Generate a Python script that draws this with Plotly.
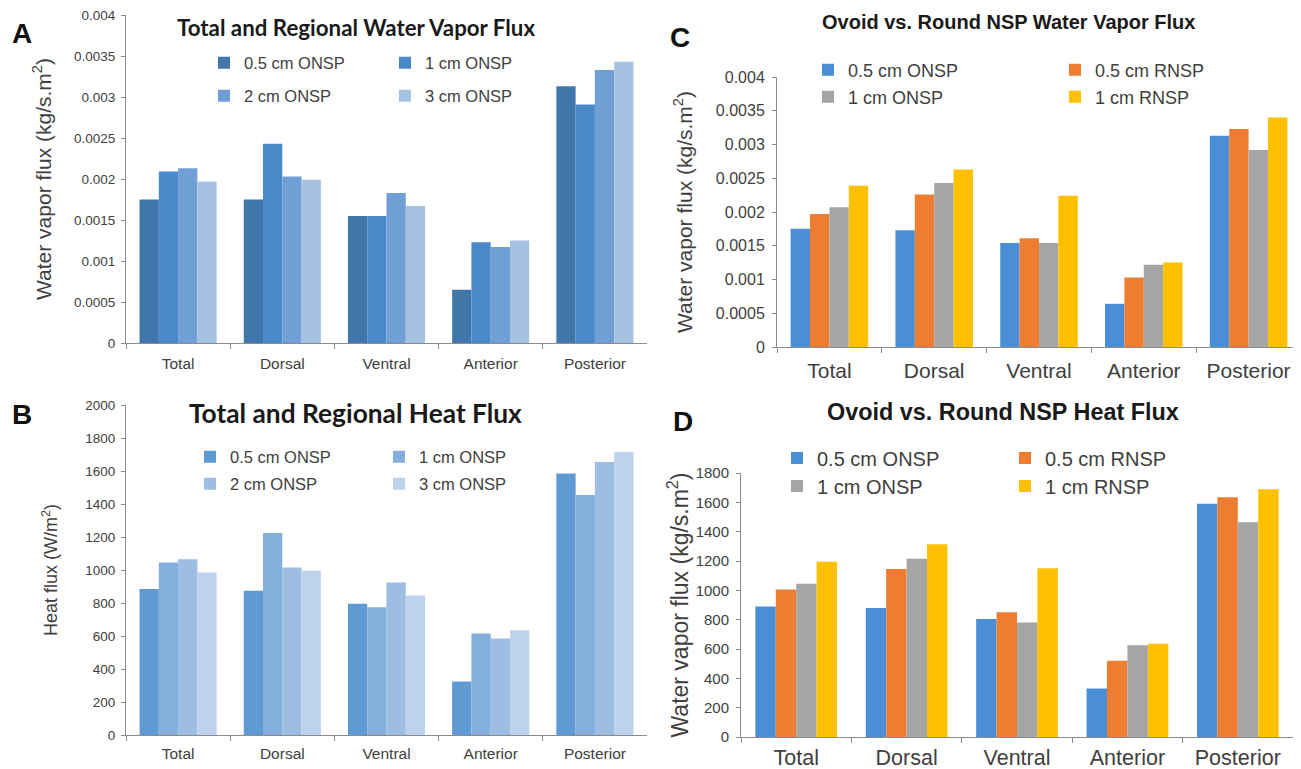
import plotly.graph_objects as go

categories = ["Total", "Dorsal", "Ventral", "Anterior", "Posterior"]

# Panel A: water vapor flux, ovoid NSP sizes
a_names = ["0.5 cm ONSP", "1 cm ONSP", "2 cm ONSP", "3 cm ONSP"]
a_05 = [0.00175, 0.00175, 0.00155, 0.00065, 0.00313]
a_1 = [0.00209, 0.00243, 0.00155, 0.00123, 0.00291]
a_2 = [0.00213, 0.00203, 0.00183, 0.00117, 0.00333]
a_3 = [0.00197, 0.00199, 0.00167, 0.00125, 0.00343]

# Panel B: heat flux, ovoid NSP sizes
b_names = ["0.5 cm ONSP", "1 cm ONSP", "2 cm ONSP", "3 cm ONSP"]
b_05 = [885, 875, 795, 325, 1585]
b_1 = [1045, 1225, 775, 615, 1455]
b_2 = [1065, 1015, 925, 585, 1655]
b_3 = [985, 995, 845, 635, 1715]

# Panel C: ovoid vs round water vapor flux
c_names = ["0.5 cm ONSP", "0.5 cm RNSP", "1 cm ONSP", "1 cm RNSP"]
c_05o = [0.00175, 0.00173, 0.00154, 0.00064, 0.00313]
c_05r = [0.00197, 0.00226, 0.00161, 0.00103, 0.00323]
c_1o = [0.00207, 0.00243, 0.00154, 0.00122, 0.00292]
c_1r = [0.00239, 0.00263, 0.00224, 0.00125, 0.00340]

# Panel D: ovoid vs round heat flux
d_names = ["0.5 cm ONSP", "0.5 cm RNSP", "1 cm ONSP", "1 cm RNSP"]
d_05o = [890, 880, 805, 330, 1590]
d_05r = [1005, 1145, 850, 520, 1635]
d_1o = [1045, 1215, 780, 625, 1465]
d_1r = [1195, 1315, 1150, 635, 1690]

titles = ["Total and Regional Water Vapor Flux", "Total and Regional Heat Flux",
          "Ovoid vs. Round NSP Water Vapor Flux", "Ovoid vs. Round NSP Heat Flux"]
letters = ["A", "B", "C", "D"]

colors_a = ["#4176AA", "#4A89C9", "#6F9FD5", "#A6C2E3"]
colors_b = ["#5F9AD3", "#84AEDC", "#9EBDE2", "#BDD2EC"]
colors_cd = ["#4A8FD6", "#ED7D31", "#A5A5A5", "#FFC000"]

# Positions below are picture pixels. The page keeps an 8px body margin, and the
# figure is made a bit wider than the window so that no legend pushes the margins.
OFF = 8
W, H = 1339, 769
def px(v):
    return min(max((v - OFF) / W, 0.0), 1.0)
def py(v):
    return min(max(1 - (v - OFF) / H, 0.0), 1.0)

fig = go.Figure()

panels = [
    ("x", "y", [a_05, a_1, a_2, a_3], a_names, colors_a, ("legend", "legend2")),
    ("x2", "y2", [b_05, b_1, b_2, b_3], b_names, colors_b, ("legend3", "legend4")),
    ("x3", "y3", [c_05o, c_05r, c_1o, c_1r], c_names, colors_cd, ("legend5", "legend6")),
    ("x4", "y4", [d_05o, d_05r, d_1o, d_1r], d_names, colors_cd, ("legend7", "legend8")),
]
for xa, ya, series, names, cols, legs in panels:
    for i, (vals, nm, col) in enumerate(zip(series, names, cols)):
        fig.add_trace(go.Bar(x=categories, y=vals, name=nm, marker_color=col,
                             marker_line_width=0, xaxis=xa, yaxis=ya,
                             legend=legs[0] if i < 2 else legs[1],
                             hoverinfo="x+y+name"))

tickfont = dict(family="Liberation Sans, Arial, sans-serif", color="#404040")
axcol = "#8C8C8C"

def xax(l, r, anchor, size, stand):
    return dict(domain=[px(l), px(r)], anchor=anchor, type="category",
                showline=True, linecolor=axcol, linewidth=1, ticks="outside",
                tickson="boundaries", ticklen=5, tickcolor=axcol, showgrid=False,
                ticklabelstandoff=stand, ticklabeloverflow="allow",
                tickfont=dict(size=size, **tickfont), automargin=False)

def yax(top, bot, anchor, rng, dt, size, stand, title, tsize, standoff):
    return dict(domain=[py(bot), py(top)], anchor=anchor, range=rng, dtick=dt,
                showline=True, linecolor=axcol, linewidth=1, ticks="outside",
                ticklen=4, tickcolor=axcol, showgrid=False, zeroline=False,
                ticklabeloverflow="allow", ticklabelstandoff=stand,
                tickfont=dict(size=size, **tickfont), automargin=False,
                title=dict(text=title, font=dict(size=tsize, **tickfont), standoff=standoff))

fig.update_layout(
    width=W, height=H, margin=dict(l=0, r=0, t=0, b=0, autoexpand=False),
    paper_bgcolor="white", plot_bgcolor="white",
    barmode="group", bargap=0.26, bargroupgap=0,
    xaxis=xax(126, 647, "y", 15.5, 6),
    yaxis=yax(15, 343, "x", [0, 0.004], 0.0005, 13.5, 3,
              "Water vapor flux (kg/s.m<sup>2</sup>)", 21, 16),
    xaxis2=xax(126, 647, "y2", 15.5, 4),
    yaxis2=yax(405, 735, "x2", [0, 2000], 200, 13.5, 3,
               "Heat flux (W/m<sup>2</sup>)", 18, 22),
    xaxis3=xax(777, 1301, "y3", 21, 5),
    yaxis3=yax(77, 347, "x3", [0, 0.004], 0.0005, 16, 4,
               "Water vapor flux (kg/s.m<sup>2</sup>)", 21, 17),
    xaxis4=xax(741, 1293, "y4", 21.5, 1),
    yaxis4=yax(473, 737, "x4", [0, 1800], 200, 15, 4,
               "Water vapor flux (kg/s.m<sup>2</sup>)", 23, 0),
)

# legends: two rows per panel; (left edge, row centre, entry width, font size)
leg_specs = [
    ("legend", 204, 63, 136, 16.5), ("legend2", 204, 96, 136, 16.5),
    ("legend3", 190, 457, 144, 16.5), ("legend4", 190, 484, 144, 16.5),
    ("legend5", 808, 70, 202, 18), ("legend6", 808, 97, 202, 18),
    ("legend7", 777, 458, 183, 20), ("legend8", 777, 486, 183, 20),
]
for name, lx, ly, ew, fs in leg_specs:
    fig.layout[name] = dict(x=px(lx), y=py(ly), xanchor="left", yanchor="middle",
                            orientation="h", entrywidth=ew, itemwidth=30,
                            bgcolor="rgba(0,0,0,0)", borderwidth=0,
                            font=dict(size=fs, **tickfont), itemclick=False,
                            tracegroupgap=0)

annots = []
title_specs = [
    (titles[0], 356, 27, "Lato, sans-serif", 22.3),
    (titles[1], 355.5, 413, "Lato, sans-serif", 26.3),
    (titles[2], 1008.5, 22, "Liberation Sans, Arial, sans-serif", 20),
    (titles[3], 1002.5, 412, "Liberation Sans, Arial, sans-serif", 23.4),
]
for t, x, y, fam, fs in title_specs:
    annots.append(dict(text="<b>" + t + "</b>", x=px(x), y=py(y), xref="paper", yref="paper",
                       xanchor="center", yanchor="middle", showarrow=False,
                       font=dict(family=fam, size=fs, color="#1A1A1A")))
letter_specs = [(letters[0], 22, 34), (letters[1], 22, 414), (letters[2], 680, 37), (letters[3], 683, 421)]
for t, x, y in letter_specs:
    annots.append(dict(text="<b>" + t + "</b>", x=px(x), y=py(y), xref="paper", yref="paper",
                       xanchor="center", yanchor="middle", showarrow=False,
                       font=dict(family="Liberation Sans, Arial, sans-serif", size=28, color="#111111")))
fig.update_layout(annotations=annots)

fig.write_html("out.html")
